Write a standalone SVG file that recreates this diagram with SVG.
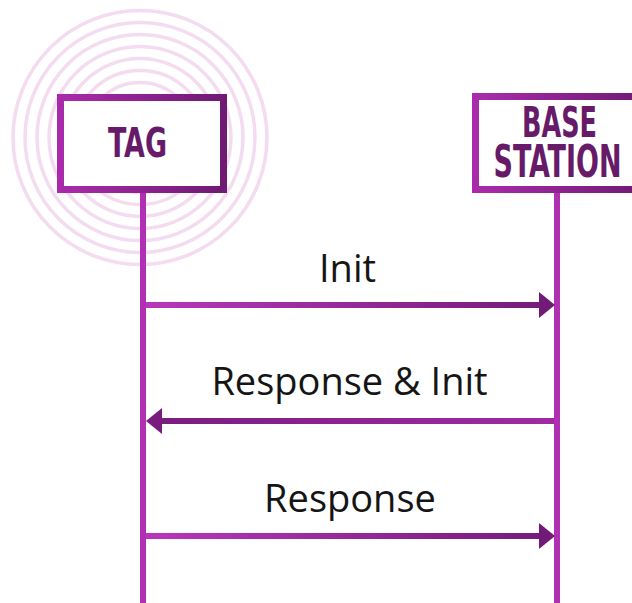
<svg xmlns="http://www.w3.org/2000/svg" width="632" height="603" viewBox="0 0 632 603">
  <defs>
    <linearGradient id="boxGrad" x1="0" y1="0" x2="1" y2="0">
      <stop offset="0" stop-color="#a92bab"/>
      <stop offset="1" stop-color="#6f1a73"/>
    </linearGradient>
    <linearGradient id="arrowR" gradientUnits="userSpaceOnUse" x1="146" y1="0" x2="556" y2="0">
      <stop offset="0" stop-color="#b837ba"/>
      <stop offset="1" stop-color="#731a78"/>
    </linearGradient>
    <linearGradient id="arrowL" gradientUnits="userSpaceOnUse" x1="146" y1="0" x2="556" y2="0">
      <stop offset="0" stop-color="#7a1c7e"/>
      <stop offset="1" stop-color="#a12aa4"/>
    </linearGradient>
    <style>
      .ring { fill: none; stroke: #f4dcf0; stroke-width: 3.5; }
      .box { fill: #ffffff; stroke: url(#boxGrad); stroke-width: 7; }
      .life { stroke: #b02fb2; stroke-width: 6; }
      .boxtxt { font-family: "DejaVu Sans", "Liberation Sans", sans-serif; font-weight: bold; font-stretch: condensed; fill: #661a68; text-anchor: middle; }
      .lbl { font-family: "Open Sans", "Noto Sans", sans-serif; font-size: 38px; fill: #151515; text-anchor: middle; }
    </style>
  </defs>
  <rect width="632" height="603" fill="#ffffff"/>

  <g id="rings">
    <circle class="ring" cx="140" cy="137.5" r="127"/>
    <circle class="ring" cx="140" cy="137.5" r="115"/>
    <circle class="ring" cx="140" cy="137.5" r="103"/>
    <circle class="ring" cx="140" cy="137.5" r="91"/>
    <circle class="ring" cx="140" cy="137.5" r="79"/>
    <circle class="ring" cx="140" cy="137.5" r="67"/>
    <circle class="ring" cx="140" cy="137.5" r="55"/>
  </g>

  <g id="lifelines">
    <line class="life" x1="143" y1="193" x2="143" y2="603"/>
    <line class="life" x1="557" y1="193" x2="557" y2="603"/>
  </g>

  <g id="tag">
    <rect class="box" x="60.5" y="97.5" width="163" height="92"/>
    <text class="boxtxt" x="137.5" y="157" font-size="40" textLength="59" lengthAdjust="spacingAndGlyphs">TAG</text>
  </g>

  <g id="base-station">
    <rect class="box" x="475.5" y="96.5" width="170" height="93"/>
    <text class="boxtxt" x="559.5" y="137" font-size="43" textLength="75" lengthAdjust="spacingAndGlyphs">BASE</text>
    <text class="boxtxt" x="557.5" y="177" font-size="44" textLength="128" lengthAdjust="spacingAndGlyphs">STATION</text>
  </g>

  <g id="connectors">
    <line x1="146" y1="305" x2="541" y2="305" stroke="url(#arrowR)" stroke-width="6"/>
    <polygon points="555,305 539,292 539,318" fill="#721a78"/>
    <line x1="161" y1="421" x2="554" y2="421" stroke="url(#arrowL)" stroke-width="6"/>
    <polygon points="146,421 162,408 162,434" fill="#7a1c7e"/>
    <line x1="146" y1="536" x2="541" y2="536" stroke="url(#arrowR)" stroke-width="6"/>
    <polygon points="555,536 539,523 539,549" fill="#721a78"/>
  </g>

  <g id="labels">
    <text class="lbl" x="347.5" y="282">Init</text>
    <text class="lbl" x="349.5" y="395">Response &amp; Init</text>
    <text class="lbl" x="350" y="512">Response</text>
  </g>
</svg>
